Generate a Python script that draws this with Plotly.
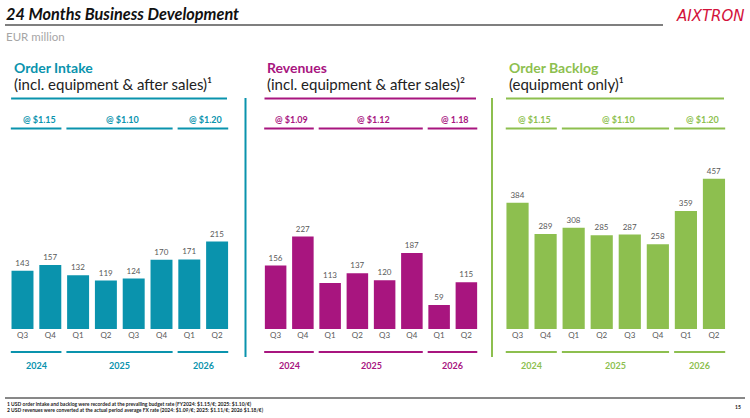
import plotly.graph_objects as go

W, H = 750, 418

quarters = ["Q3", "Q4", "Q1", "Q2", "Q3", "Q4", "Q1", "Q2"]
years = ["2024", "2025", "2026"]
year_groups = [(0, 1), (2, 5), (6, 7)]

order_intake = [143, 157, 132, 119, 124, 170, 171, 215]
revenues = [156, 227, 113, 137, 120, 187, 59, 115]
order_backlog = [384, 289, 308, 285, 287, 258, 359, 457]

fx_intake = ["@ $1.15", "@ $1.10", "@ $1.20"]
fx_revenues = ["@ $1.09", "@ $1.12", "@ 1.18"]
fx_backlog = ["@ $1.15", "@ $1.10", "@ $1.20"]

TEAL = "#0a93ad"
MAGENTA = "#a8157f"
GREEN = "#8dbf4f"
GREY = "#595959"
FONT = "Lato"


def px(x):
    return x / W


def py(y):
    return 1 - y / H


panels = [
    # name, subtitle, values, fx labels, colour, x domain (px), y max
    ("Order Intake", "(incl. equipment & after sales)¹", order_intake, fx_intake, TEAL, (8.6, 231), 489),
    ("Revenues", "(incl. equipment & after sales)²", revenues, fx_revenues, MAGENTA, (262, 480), 489),
    ("Order Backlog", "(equipment only)¹", order_backlog, fx_backlog, GREEN, (503.5, 728), 605),
]

fig = go.Figure()
shapes = []
annotations = []

for i, (title, sub, vals, fx, col, (x0, x1), ymax) in enumerate(panels):
    n = "" if i == 0 else str(i + 1)
    xa, ya = "x" + n, "y" + n
    fig.add_trace(go.Bar(
        x=list(range(len(vals))), y=vals, xaxis=xa, yaxis=ya,
        marker=dict(color=col, line=dict(width=0)),
        text=[str(v) for v in vals], textposition="outside",
        textfont=dict(family=FONT, size=8, color=GREY),
        cliponaxis=False, showlegend=False, hoverinfo="skip",
    ))
    fig.update_layout(**{
        "xaxis" + n: dict(domain=[px(x0), px(x1)], range=[-0.5, 7.5],
                          tickmode="array", tickvals=list(range(8)), ticktext=quarters,
                          tickfont=dict(family=FONT, size=8, color=GREY),
                          showgrid=False, zeroline=False, showline=False, ticks="",
                          anchor=ya, fixedrange=True),
        "yaxis" + n: dict(domain=[py(329), py(130)], range=[0, ymax], visible=False,
                          anchor=xa, fixedrange=True),
    })

    # panel headings
    annotations.append(dict(x=px(x0 + 3), y=py(67), xref="paper", yref="paper", text="<b>%s</b>" % title,
                            showarrow=False, xanchor="left", yanchor="middle",
                            font=dict(family=FONT, size=14, color=col)))
    annotations.append(dict(x=px(x0 + 3), y=py(84), xref="paper", yref="paper", text=sub,
                            showarrow=False, xanchor="left", yanchor="middle",
                            font=dict(family=FONT, size=15, color="#222222")))
    shapes.append(dict(type="line", xref="paper", yref="paper", x0=px(x0 + 2.5), x1=px(x1 - 4),
                       y0=py(98.5), y1=py(98.5), line=dict(color=col, width=2)))

    # FX rate and year groups
    for (g0, g1), fxl, yr in zip(year_groups, fx, years):
        for yline in (128.5, 352):
            shapes.append(dict(type="line", xref=xa, yref="paper", x0=g0 - 0.42, x1=g1 + 0.4,
                               y0=py(yline), y1=py(yline), line=dict(color=col, width=2)))
        annotations.append(dict(x=(g0 + g1) / 2 + 0.1, y=py(119), xref=xa, yref="paper",
                                text="<b>%s</b>" % fxl, showarrow=False, yanchor="middle",
                                font=dict(family=FONT, size=9, color=col)))
        annotations.append(dict(x=(g0 + g1) / 2, y=py(365), xref=xa, yref="paper",
                                text="<b>%s</b>" % yr, showarrow=False, yanchor="middle",
                                font=dict(family=FONT, size=9, color=col)))

# vertical dividers
shapes.append(dict(type="line", xref="paper", yref="paper", x0=px(245.5), x1=px(245.5),
                   y0=py(98), y1=py(357), line=dict(color=TEAL, width=2)))
shapes.append(dict(type="line", xref="paper", yref="paper", x0=px(492), x1=px(492),
                   y0=py(98), y1=py(357), line=dict(color=GREEN, width=2)))

# header
annotations.append(dict(x=px(4), y=py(14), xref="paper", yref="paper",
                        text="<b><i>24 Months Business Development</i></b>", showarrow=False,
                        xanchor="left", yanchor="middle", font=dict(family=FONT, size=16.3, color="#111111")))
shapes.append(dict(type="line", xref="paper", yref="paper", x0=px(5), x1=px(663),
                   y0=py(25), y1=py(25), line=dict(color="#7f7f7f", width=2)))
annotations.append(dict(x=px(747), y=py(16), xref="paper", yref="paper",
                        text="<i>AIXTRON</i>", showarrow=False,
                        xanchor="right", yanchor="middle", font=dict(family="DejaVu Sans", size=15, color="#d3123b")))
annotations.append(dict(x=px(4), y=py(37), xref="paper", yref="paper", text="EUR million",
                        showarrow=False, xanchor="left", yanchor="middle",
                        font=dict(family=FONT, size=11.5, color="#a6a6a6")))

# footer
shapes.append(dict(type="line", xref="paper", yref="paper", x0=px(5), x1=px(745),
                   y0=py(398), y1=py(398), line=dict(color="#111111", width=1)))
annotations.append(dict(x=px(5), y=py(404), xref="paper", yref="paper",
                        text="<b>1 USD order intake and backlog were recorded at the prevailing budget rate (FY2024: $1.15/€; 2025: $1.10/€)</b>",
                        showarrow=False, xanchor="left", yanchor="middle",
                        font=dict(family=FONT, size=5, color="#222222")))
annotations.append(dict(x=px(5), y=py(410), xref="paper", yref="paper",
                        text="<b>2 USD revenues were converted at the actual period average FX rate (2024: $1.09/€; 2025: $1.11/€; 2026 $1.18/€)</b>",
                        showarrow=False, xanchor="left", yanchor="middle",
                        font=dict(family=FONT, size=5, color="#222222")))
annotations.append(dict(x=px(738), y=py(407), xref="paper", yref="paper", text="<b>15</b>",
                        showarrow=False, xanchor="center", yanchor="middle",
                        font=dict(family=FONT, size=5, color="#222222")))

fig.update_layout(
    width=W, height=H, margin=dict(l=0, r=0, t=0, b=0),
    paper_bgcolor="white", plot_bgcolor="white",
    bargap=0.21, shapes=shapes, annotations=annotations,
)

# the page body has a default 8px margin; drop it so the figure fills the window
fig.write_html("out.html", config={"displayModeBar": False},
               post_script="document.body.style.margin='0';")
